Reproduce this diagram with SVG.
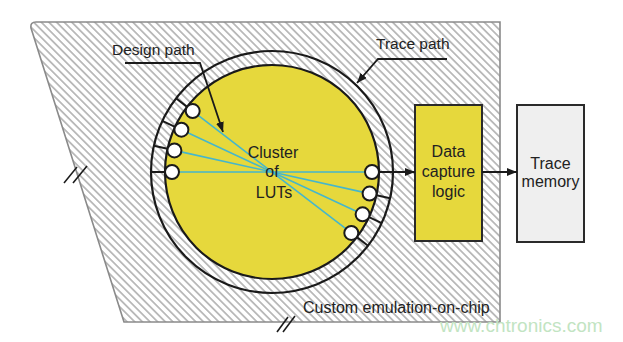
<svg xmlns="http://www.w3.org/2000/svg" width="623" height="342" viewBox="0 0 623 342">
<defs>
<pattern id="hatch" patternUnits="userSpaceOnUse" width="10" height="5.4" patternTransform="rotate(45)">
<rect width="10" height="5.4" fill="#ffffff"/>
<line x1="0" y1="2.7" x2="10" y2="2.7" stroke="#7a7a7a" stroke-width="0.95"/>
</pattern>
<marker id="ah" viewBox="0 0 10 8" refX="10" refY="4" markerWidth="10" markerHeight="8" markerUnits="userSpaceOnUse" orient="auto">
<path d="M0,0 L10,4 L0,8 Z" fill="#1a1a1a"/>
</marker>
</defs>
<style>
.t{font-family:"Liberation Sans",Arial,sans-serif;fill:#222;}
.lbl{font-size:15.5px;}
.box{font-size:16px;text-anchor:middle;}
.k{stroke:#1a1a1a;stroke-width:2.2;fill:none;}
.tick{stroke:#1a1a1a;stroke-width:2;}
.sc{fill:#ffffff;stroke:#1a1a1a;stroke-width:2;}
.blue{stroke:#45b6cc;stroke-width:1.6;}
.conn{stroke:#1a1a1a;stroke-width:1.8;fill:none;}
</style>
<rect width="623" height="342" fill="#ffffff"/>

<g id="chip">
<path d="M31,28 Q30,22 36,22 L500,22 L500,322 L124,322 Z" fill="url(#hatch)" stroke="#8a8a8a" stroke-width="1.6"/>
<g stroke="#1a1a1a" stroke-width="1.6">
<line x1="64" y1="183" x2="77" y2="167"/>
<line x1="73" y1="183" x2="87" y2="166"/>
<line x1="277" y1="332" x2="288" y2="317"/>
<line x1="283" y1="332" x2="295" y2="316"/>
</g>
<text class="t" x="303" y="313" font-size="16">Custom emulation-on-chip</text>
</g>

<g id="trace-path">
<circle cx="272" cy="172" r="121" class="k" stroke-width="2.5"/>
<g class="tick">
<line x1="165" y1="172" x2="151" y2="172"/>
<line x1="167.5" y1="148.8" x2="153.9" y2="145.8"/>
<line x1="175" y1="126.8" x2="162.3" y2="120.9"/>
<line x1="187.1" y1="106.9" x2="176" y2="98.3"/>
<line x1="376.5" y1="195.2" x2="390.1" y2="198.2"/>
<line x1="369" y1="217.2" x2="381.7" y2="223.1"/>
<line x1="356.9" y1="237.1" x2="368" y2="245.7"/>
</g>
</g>

<g id="cluster">
<circle cx="272" cy="172" r="107" fill="#e6d83c" stroke="#1a1a1a" stroke-width="2.2"/>
<g class="blue">
<line x1="172" y1="172" x2="372" y2="172"/>
<line x1="174.4" y1="150.4" x2="369.6" y2="193.6"/>
<line x1="181.4" y1="129.7" x2="362.6" y2="214.3"/>
<line x1="192.7" y1="111.1" x2="351.3" y2="232.9"/>
</g>
<g class="sc">
<circle cx="172" cy="172" r="7"/>
<circle cx="174.4" cy="150.4" r="7"/>
<circle cx="181.4" cy="129.7" r="7"/>
<circle cx="192.7" cy="111.1" r="7"/>
<circle cx="372" cy="172" r="7"/>
<circle cx="369.6" cy="193.6" r="7"/>
<circle cx="362.6" cy="214.3" r="7"/>
<circle cx="351.3" cy="232.9" r="7"/>
</g>
<text class="t box" x="273" y="158">Cluster</text>
<text class="t box" x="272" y="177">of</text>
<text class="t box" x="274" y="198">LUTs</text>
</g>

<g id="data-capture-logic">
<rect x="415" y="105" width="67" height="136" fill="#e6d83c" stroke="#2a2a2a" stroke-width="2"/>
<text class="t box" x="448.5" y="157">Data</text>
<text class="t box" x="448.5" y="177">capture</text>
<text class="t box" x="448.5" y="197">logic</text>
</g>

<g id="trace-memory">
<rect x="517" y="105" width="67" height="137" fill="#efefef" stroke="#2a2a2a" stroke-width="2"/>
<text class="t box" x="550.5" y="169">Trace</text>
<text class="t box" x="550.5" y="187">memory</text>
</g>

<g id="labels">
<text class="t lbl" x="112" y="55">Design path</text>
<text class="t lbl" x="376" y="49">Trace path</text>
</g>

<g id="connectors">
<polyline class="conn" points="125,63 200,63 223,132" marker-end="url(#ah)"/>
<polyline class="conn" points="447,59 378,59 357,83" marker-end="url(#ah)"/>
<line class="conn" x1="379" y1="172" x2="415" y2="172" marker-end="url(#ah)"/>
<line class="conn" x1="482" y1="172" x2="517" y2="172" marker-end="url(#ah)"/>
</g>

<text x="440" y="332" font-family="Liberation Sans,Arial,sans-serif" font-size="19" fill="#c2e4c2">www.chtronics.com</text>
</svg>
